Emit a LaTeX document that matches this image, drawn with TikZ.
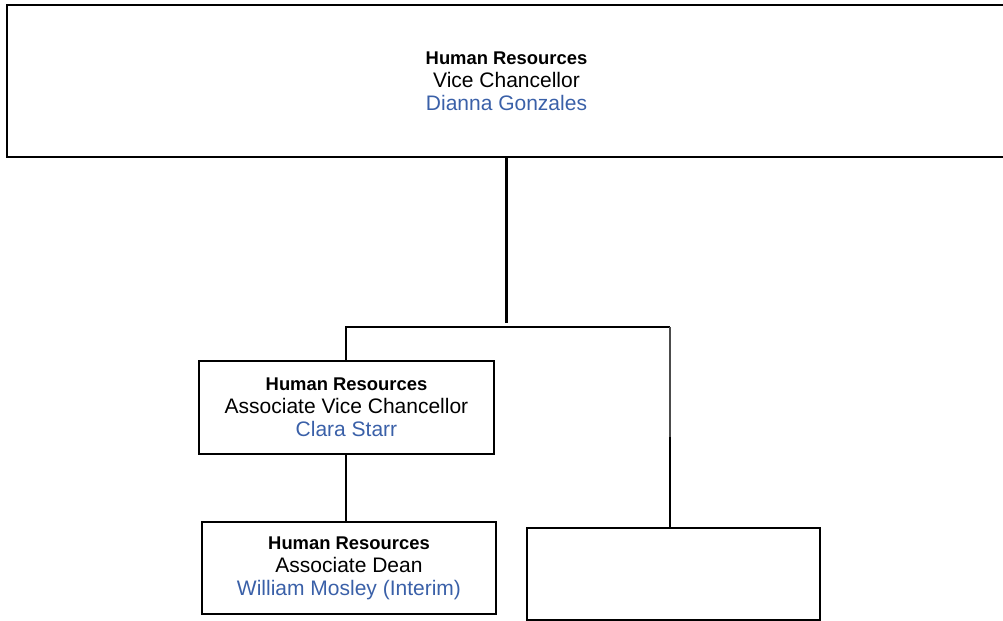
\documentclass[tikz,border=0pt]{standalone}
\usepackage{fontspec}
\setmainfont{Liberation Sans}
\definecolor{namecol}{RGB}{58,96,168}
\begin{document}
\begin{tikzpicture}[x=0.5pt,y=-0.5pt,
  orgbox/.style={draw, line width=1.1pt, align=center, inner sep=0pt,
    font=\fontsize{10.5}{11.5}\selectfont},
  link/.style={line width=1.1pt},
  faint/.style={line width=0.6pt, black!70}]
\useasboundingbox (0,0) rectangle (1003,621);

% org chart boxes
\node[orgbox, minimum width=499.5pt, minimum height=76pt] (vc) at (506.5,81)
  {{\fontsize{9.2}{11.5}\selectfont\bfseries Human Resources}\\
   Vice Chancellor\\
   \textcolor{namecol}{Dianna Gonzales}};
\node[orgbox, minimum width=147.5pt, minimum height=46.5pt] (avc) at (346.5,407.5)
  {{\fontsize{9.2}{11.5}\selectfont\bfseries Human Resources}\\
   Associate Vice Chancellor\\
   \textcolor{namecol}{Clara Starr}};
\node[orgbox, minimum width=147pt, minimum height=46pt] (dean) at (349,568)
  {{\fontsize{9.2}{11.5}\selectfont\bfseries Human Resources}\\
   Associate Dean\\
   \textcolor{namecol}{William Mosley (Interim)}};
\node[orgbox, minimum width=146.5pt, minimum height=46pt] (blank) at (673.5,574) {};

% connector junctions
\coordinate (stem) at (506.5,323);
\coordinate (busL) at (346,327);
\coordinate (busR) at (670,327);
\coordinate (kink) at (670,437);

% connectors
\draw[link] (vc.south) -- (stem);
\draw[link] (avc.north -| busL) -- (busL) -- (busR);
\draw[faint] (busR) -- (kink);
\draw[link] (kink) -- (blank.north -| kink);
\draw[link] (avc.south -| busL) -- (dean.north -| busL);
\end{tikzpicture}
\end{document}
